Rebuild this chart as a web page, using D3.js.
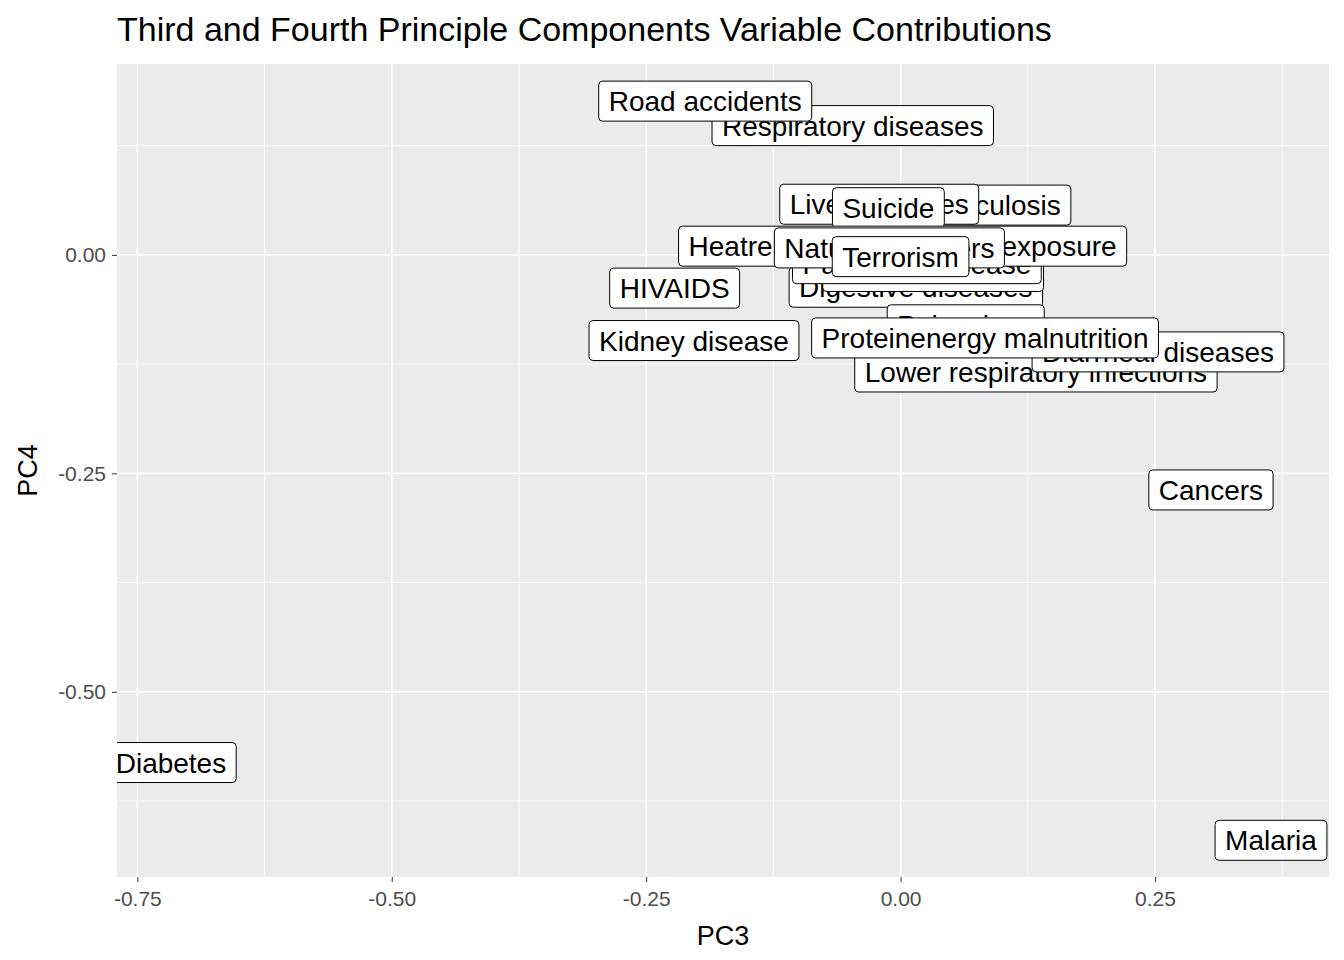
<!DOCTYPE html>
<html><head><meta charset="utf-8">
<script src="https://cdn.jsdelivr.net/npm/d3@7"></script>
<style>body{margin:0;background:#fff}text{font-family:"Liberation Sans",Arial,sans-serif}</style>
</head><body>
<script>
// drawing order follows the reference (later labels sit on top)
const names = ["Respiratory diseases","Road accidents","Tuberculosis","Liver diseases","Suicide",
  "Digestive diseases","Maternal deaths","Parkinson disease","Heatrelated hot and cold exposure","Natural disasters",
  "Terrorism","HIVAIDS","Kidney disease","Poisonings","Lower respiratory infections","Diarrheal diseases",
  "Proteinenergy malnutrition","Cancers","Diabetes","Malaria"];
const pc3 = [-0.047,-0.192,0.080,-0.021,-0.012,0.015,0.032,0.016,0.002,-0.011,0.000,-0.222,-0.203,0.064,0.133,0.253,0.083,0.305,-0.717,0.364];
const pc4 = [0.148,0.176,0.057,0.058,0.054,-0.037,-0.019,-0.010,0.010,0.008,-0.002,-0.038,-0.098,-0.080,-0.134,-0.111,-0.095,-0.269,-0.581,-0.670];
const xTicks = [-0.75,-0.5,-0.25,0,0.25];
const yTicks = [0,-0.25,-0.5];

const W=1344,H=960, L=117,R=1329,T=64,B=877;
const svg=d3.select("body").append("svg").attr("width",W).attr("height",H);
const x=d3.scaleLinear().domain([-0.770,0.421]).range([L,R]);
const y=d3.scaleLinear().domain([-0.712,0.2185]).range([B,T]);
svg.append("rect").attr("x",L).attr("y",T).attr("width",R-L).attr("height",B-T).attr("fill","#ebebeb");
const minorX=[-0.625,-0.375,-0.125,0.125,0.375], minorY=[0.125,-0.125,-0.375,-0.625];
const g=svg.append("g");
g.selectAll(".mx").data(minorX).join("line").attr("x1",d=>x(d)).attr("x2",d=>x(d)).attr("y1",T).attr("y2",B).attr("stroke","#fff").attr("stroke-width",0.8);
g.selectAll(".my").data(minorY).join("line").attr("y1",d=>y(d)).attr("y2",d=>y(d)).attr("x1",L).attr("x2",R).attr("stroke","#fff").attr("stroke-width",0.8);
g.selectAll(".Mx").data(xTicks).join("line").attr("x1",d=>x(d)).attr("x2",d=>x(d)).attr("y1",T).attr("y2",B).attr("stroke","#fff").attr("stroke-width",1.6);
g.selectAll(".My").data(yTicks).join("line").attr("y1",d=>y(d)).attr("y2",d=>y(d)).attr("x1",L).attr("x2",R).attr("stroke","#fff").attr("stroke-width",1.6);

const fmt=d=>d3.format(".2f")(d).replace("−","-");
const xa=svg.append("g").attr("transform",`translate(0,${B})`).call(d3.axisBottom(x).tickValues(xTicks).tickFormat(fmt).tickSize(5).tickPadding(9));
const ya=svg.append("g").attr("transform",`translate(${L},0)`).call(d3.axisLeft(y).tickValues(yTicks).tickFormat(fmt).tickSize(5).tickPadding(6));
[xa,ya].forEach(a=>{a.select(".domain").remove();a.selectAll("line").attr("stroke","#333");a.selectAll("text").attr("fill","#4d4d4d").attr("font-size",21).style("font-family","Liberation Sans, Arial");});

svg.append("clipPath").attr("id","cp").append("rect").attr("x",L).attr("y",T).attr("width",R-L).attr("height",B-T);
const lab=svg.append("g").attr("clip-path","url(#cp)");
names.forEach((n,i)=>{
  const gg=lab.append("g").attr("transform",`translate(${x(pc3[i])},${y(pc4[i])})`);
  const t=gg.append("text").attr("text-anchor","middle").attr("dy","0.36em").attr("font-size",28).text(n);
  const w=t.node().getComputedTextLength();
  gg.insert("rect","text").attr("x",-w/2-10).attr("y",-20).attr("width",w+20).attr("height",40).attr("rx",4).attr("fill","#fff").attr("stroke","#000").attr("stroke-width",1);
});

svg.append("text").attr("x",L).attr("y",41).attr("font-size",34).text("Third and Fourth Principle Components Variable Contributions");
svg.append("text").attr("x",(L+R)/2).attr("y",945).attr("text-anchor","middle").attr("font-size",27).text("PC3");
svg.append("text").attr("transform",`translate(37,${(T+B)/2}) rotate(-90)`).attr("text-anchor","middle").attr("font-size",27).text("PC4");
</script>
</body></html>
